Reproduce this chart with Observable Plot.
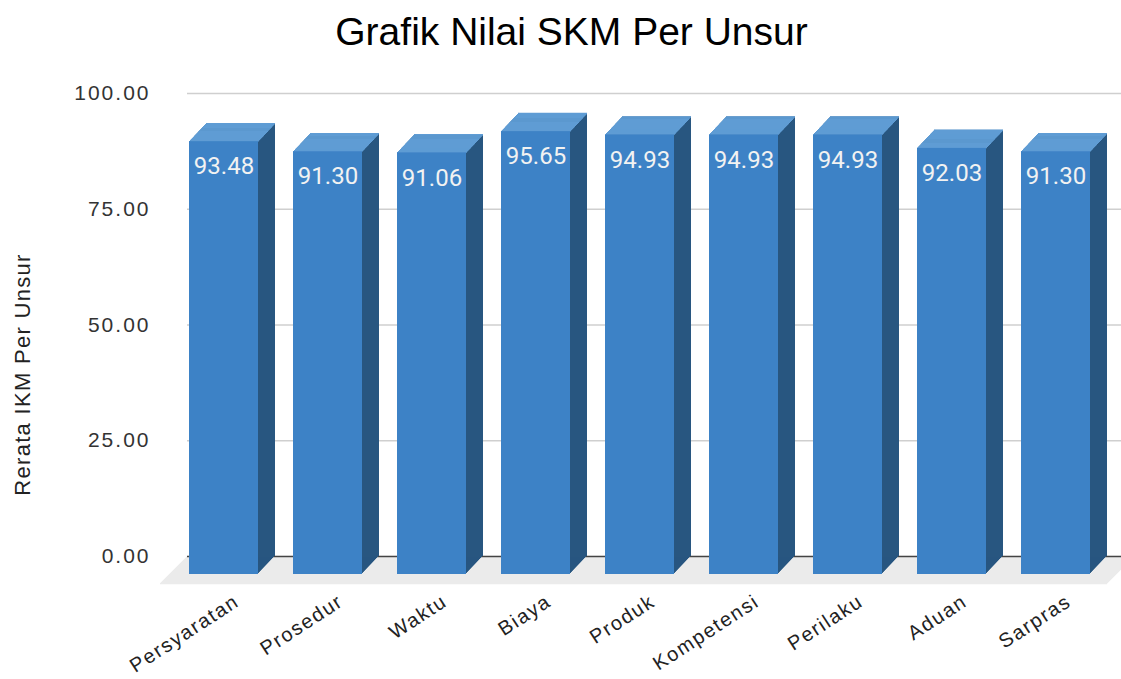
<!DOCTYPE html>
<html>
<head>
<meta charset="utf-8">
<script src="https://cdn.jsdelivr.net/npm/d3@7"></script>
<script src="https://cdn.jsdelivr.net/npm/@observablehq/plot@0.6"></script>
<style>
  html, body { margin: 0; padding: 0; background: #fff; }
  #title { height: 70px; width: 1121px; box-sizing: border-box; padding-left: 22px; text-align: center;
           font-family: "Liberation Sans", Arial, sans-serif; font-size: 39px; line-height: 63px; color: #000; }
  #chart svg { display: block; }
  g[font-size="20"] text { letter-spacing: 1.6px; }
  g[font-size="21"] text { letter-spacing: 2px; }
  g[font-size="22"] text { letter-spacing: 1.3px; }
</style>
</head>
<body>
<div id="title">Grafik Nilai SKM Per Unsur</div>
<div id="chart"></div>
<script>
const categories = ["Persyaratan", "Prosedur", "Waktu", "Biaya", "Produk", "Kompetensi", "Perilaku", "Aduan", "Sarpras"];
const values = [93.48, 91.30, 91.06, 95.65, 94.93, 94.93, 94.93, 92.03, 91.30];
const yTicks = [0, 25, 50, 75, 100];
const yTitle = "Rerata IKM Per Unsur";

const data = categories.map((c, i) => ({category: c, value: values[i]}));

const FRONT = "#3d82c6", TOP = "#5f9cd4", SIDE = "#285680";
const DEPTH = 17, RISE = 18;

const marks = [];
// floor
for (let i = 0; i <= 27; i++) {
  marks.push(Plot.ruleY([0], {dx: i, dy: 9 - i, insetRight: 11, stroke: "#ebebeb", strokeWidth: 1.6}));
}
// gridlines (back plane)
marks.push(Plot.ruleY(yTicks.filter(d => d > 0), {dx: 27, dy: -RISE, stroke: "#cfcfcf", strokeWidth: 1.3}));
marks.push(Plot.ruleY([0], {dx: 27, dy: -RISE, stroke: "#444", strokeWidth: 1.5}));
// side extrusion
for (let i = 1; i <= DEPTH; i++) {
  marks.push(Plot.barY(data, {x: "category", y: "value", fill: SIDE, dx: i, dy: -i * RISE / DEPTH}));
}
// top face
for (let i = 0; i <= DEPTH; i++) {
  marks.push(Plot.tickY(data, {x: "category", y: "value", stroke: TOP, strokeWidth: 1.6, dx: i, dy: -i * RISE / DEPTH}));
}
// front face
marks.push(Plot.barY(data, {x: "category", y: "value", fill: FRONT}));
// value labels
marks.push(Plot.text(data, {x: "category", y: "value", text: d => d.value.toFixed(2), dy: 25,
  fill: "#f2f2f2", fontSize: 24, fontFamily: "Roboto"}));
// y tick labels
marks.push(Plot.text(yTicks, {y: d => d, text: d => d.toFixed(2), frameAnchor: "left", textAnchor: "end",
  dx: -10, dy: -RISE, fill: "#333", fontSize: 21}));
// x labels
marks.push(Plot.text(data, {x: "category", text: "category", frameAnchor: "bottom", rotate: -33, textAnchor: "end",
  lineAnchor: "middle", dx: 13, dy: 25, fill: "#222", fontSize: 20}));
// y title
marks.push(Plot.text([yTitle], {frameAnchor: "left", textAnchor: "middle", rotate: -90, dx: -138, dy: 31.5, fill: "#222",
  fontSize: 22}));

const chart = Plot.plot({
  width: 1121,
  height: 609,
  marginLeft: 160,
  marginRight: 3,
  marginTop: 41,
  marginBottom: 105,
  style: {fontFamily: "'Liberation Sans', Arial, sans-serif", background: "#fff", overflow: "hidden"},
  x: {domain: categories, paddingInner: 0.339, paddingOuter: 0.259, axis: null},
  y: {domain: [0, 100], axis: null},
  marks
});
document.getElementById("chart").appendChild(chart);
</script>
</body>
</html>
